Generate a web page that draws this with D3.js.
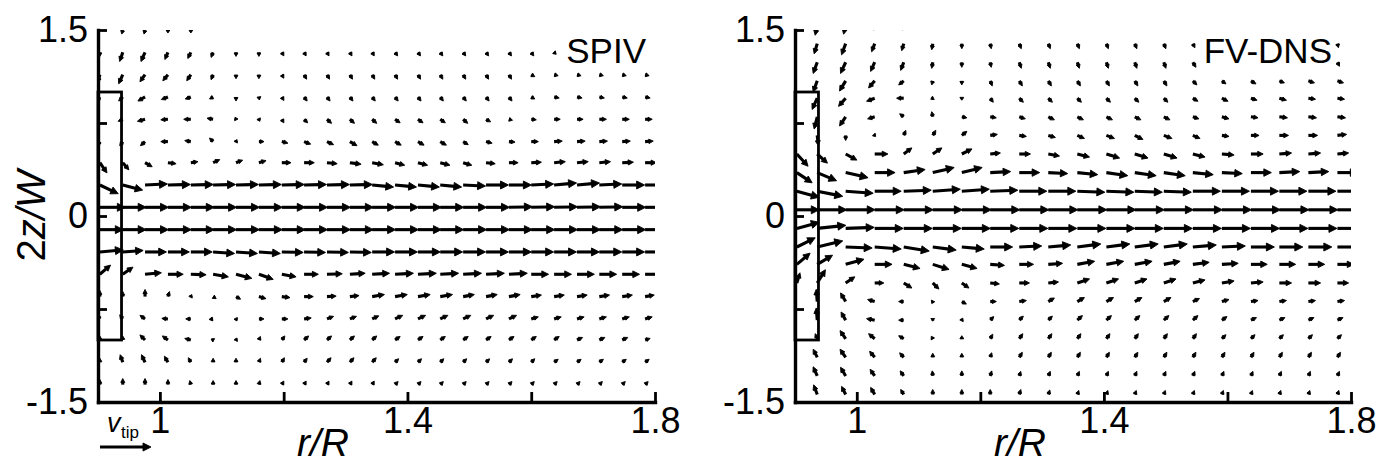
<!DOCTYPE html>
<html><head><meta charset="utf-8">
<script src="https://cdn.jsdelivr.net/npm/d3@7"></script>
<style>
body{margin:0;background:#fff}
svg{display:block}
text{font-family:"Liberation Sans",Arial,Helvetica,sans-serif;fill:#000}
</style>
</head><body>
<svg id="chart" width="1396" height="467"></svg>
<script>
// ---------- data (velocities in % of V_tip, u radial, v axial) ----------
const spivR = [0.903,0.940,0.976,1.013,1.050,1.086,1.123,1.160,1.197,1.233,1.270,1.307,1.343,1.380,1.417,1.453,1.490,1.527,1.564,1.600,1.637,1.674,1.710,1.747,1.784];
const spivZ = [1.50,1.32,1.14,0.96,0.78,0.60,0.43,0.25,0.07,-0.11,-0.29,-0.47,-0.65,-0.83,-1.00,-1.18,-1.36];
const spivU = [
[0,-2,-2,0,0,0,0,0,0,0,0,0,0,0,0,0,0,0,0,0,0,0,0,0,0],
[0,-6,-8,-6,-6,-4,0,0,4,4,4,4,4,5,5,5,5,5,5,5,4,4,4,4,4],
[-4,-8,-10,-10,-8,-4,0,0,4,5,5,5,5,5,5,5,5,5,5,7,8,8,8,8,8],
[-6,-8,-14,-13,-11,-7,0,1,4,6,6,6,6,6,6,6,6,6,6,7,10,10,10,10,10],
[0,-9,-15,-14,-14,-12,-2,2,4,7,9,9,9,10,10,10,9,9,7,10,12,12,14,14,14],
[-4,-6,-9,-14,-12,-7,2,10,12,13,13,14,12,12,12,12,10,12,12,14,16,16,16,16,16],
[14,12,14,16,14,13,13,14,18,20,20,22,22,19,19,19,17,18,18,20,22,22,22,22,22],
[36,39,44,44,44,44,44,44,44,44,44,44,42,42,42,42,44,44,44,44,44,44,44,44,44],
[50,46,46,46,46,46,46,46,46,46,46,46,46,46,46,46,46,46,46,46,46,46,46,46,46],
[46,46,46,46,46,46,46,46,46,46,46,46,46,46,46,46,46,46,46,46,46,46,46,46,46],
[46,40,42,42,42,42,42,42,42,42,42,42,44,44,44,44,44,44,44,44,44,44,44,44,44],
[21,20,32,30,30,30,31,28,28,28,30,30,34,36,36,36,36,36,36,34,34,34,34,34,34],
[0,0,0,3,2,6,9,14,16,18,18,18,24,24,24,24,22,22,22,20,20,20,20,20,18],
[-4,-6,-10,-12,-10,-8,2,10,12,14,13,13,13,15,15,15,15,15,15,14,14,14,14,14,14],
[0,0,-10,-11,-12,-4,2,3,6,9,9,9,9,10,10,10,10,10,10,10,10,11,11,11,10],
[0,-5,-7,-7,-5,0,0,3,5,6,8,8,8,7,7,7,7,7,7,7,8,8,8,8,8],
[0,0,0,0,-2,0,0,2,4,4,4,4,4,6,6,6,6,6,6,6,6,6,6,6,6]
];
const spivV = [
[0,-8,-8,-6,-6,0,0,0,0,0,0,0,0,0,0,0,0,0,0,0,0,0,0,0,0],
[-8,-18,-18,-14,-12,-10,-8,-8,-7,-7,-7,-7,-7,-7,-7,-7,-7,-7,-7,-7,-4,-4,-4,-4,-4],
[-16,-18,-14,-12,-12,-10,-8,-8,-7,-9,-9,-9,-9,-9,-9,-9,-9,-9,-9,-4,-2,-2,-2,-2,-2],
[-10,-8,-8,-5,-4,-4,-8,-6,-7,-8,-8,-8,-8,-8,-8,-8,-8,-8,-8,-4,-2,-2,-2,-2,-2],
[0,-4,-4,-1,0,2,4,-4,-7,-7,-8,-8,-8,-7,-7,-7,-8,-5,-2,-1,0,0,0,0,0],
[-8,-8,-8,0,2,7,4,0,-3,-5,-6,-8,-7,-7,-7,-7,-6,-3,-1,0,1,1,1,1,1],
[-20,-14,-8,-2,2,6,5,4,0,0,-2,-3,-4,-5,-5,-5,-5,-2,0,1,2,2,2,1,0],
[-17,-10,2,1,1,1,1,1,1,1,1,1,-4,-4,-4,-4,-2,0,0,2,4,4,2,0,0],
[0,0,0,0,0,0,0,0,0,0,0,0,0,0,0,0,0,0,1,1,1,1,1,0,0],
[0,0,0,0,0,0,0,0,0,0,0,0,0,0,0,0,0,0,0,0,0,0,0,0,0],
[4,3,0,0,0,-3,-3,-3,-1,-1,-1,-1,0,0,0,0,0,0,0,0,0,0,0,0,0],
[18,14,3,0,-1,-5,-8,-10,-5,0,1,2,2,2,2,2,2,2,2,0,0,0,0,0,0],
[12,10,14,10,4,-4,-5,-4,-2,0,1,2,4,4,4,4,4,4,4,3,3,3,3,3,3],
[8,8,7,1,0,-1,-4,0,0,2,5,5,6,7,7,7,7,7,7,4,4,4,4,4,4],
[8,8,10,8,3,2,4,7,8,8,8,8,8,7,7,7,7,7,7,7,7,5,5,5,3],
[8,15,15,12,9,8,8,8,9,8,9,9,9,7,7,7,7,7,7,7,6,6,6,6,6],
[10,12,12,10,8,8,8,8,7,7,7,7,7,6,6,6,6,6,6,6,6,6,6,6,6]
];
const dnsR = [0.903,0.936,0.982,1.029,1.076,1.123,1.170,1.216,1.263,1.310,1.357,1.404,1.450,1.497,1.544,1.591,1.638,1.684,1.731,1.778];
const dnsZ = [1.54,1.39,1.24,1.09,0.95,0.80,0.65,0.50,0.35,0.20,0.05,-0.10,-0.25,-0.39,-0.54,-0.69,-0.84,-0.99,-1.14,-1.29,-1.44];
const dnsU = [
[0,-4,-4,-2,-2,0,0,2,2,2,2,2,2,2,4,4,4,4,4,4],
[0,-6,-8,-6,-4,-2,0,2,4,4,4,4,4,4,4,4,4,4,4,2],
[0,-8,-10,-8,-6,-2,0,2,4,4,4,4,4,4,6,6,6,6,6,4],
[0,-8,-12,-12,-10,-2,0,4,6,6,6,6,6,6,8,8,10,10,12,12],
[0,-10,-14,-16,-14,-4,0,6,8,8,8,8,8,8,10,12,12,14,14,14],
[0,-6,-12,-14,-8,-2,10,12,12,12,12,12,12,12,12,14,14,16,16,16],
[0,2,0,2,4,6,10,14,14,14,14,16,16,16,14,14,16,18,18,18],
[22,20,22,26,16,18,20,20,22,22,24,26,26,26,24,24,24,24,24,22],
[30,38,44,40,42,42,40,40,40,38,40,42,42,42,40,40,40,40,40,40],
[44,50,54,52,54,54,54,54,54,54,54,54,54,54,54,54,54,54,54,54],
[44,58,58,58,58,58,58,58,58,58,58,58,58,58,58,58,58,58,58,58],
[44,56,56,56,56,56,56,56,56,56,56,56,56,56,56,56,56,56,56,56],
[36,50,52,52,50,46,44,44,44,44,46,46,46,46,46,46,46,46,46,46],
[26,30,36,34,32,32,30,28,28,28,34,34,34,32,32,32,32,32,32,32],
[6,16,18,18,16,12,14,18,20,20,24,24,24,24,24,24,24,24,24,22],
[0,-2,-10,-14,-10,-2,9,12,14,12,14,14,14,14,13,14,14,14,14,14],
[0,-2,-9,-16,-10,0,2,7,8,8,10,10,10,10,10,10,11,11,11,11],
[0,-4,-11,-12,-10,-3,0,5,7,7,7,7,7,7,7,8,8,8,8,8],
[0,-8,-11,-10,-8,0,0,3,6,6,6,6,6,6,6,6,6,6,6,6],
[0,-8,-10,-9,-7,-1,0,3,3,4,4,4,4,4,4,4,4,4,4,4],
[0,-7,-8,-8,-6,0,0,0,3,3,3,3,3,3,3,3,3,3,3,3]
];
const dnsV = [
[0,-20,-18,-10,-10,-8,-8,-8,-8,-8,-8,-8,-8,-8,-6,-6,-6,-6,-6,-6],
[0,-20,-22,-16,-14,-12,-10,-10,-10,-10,-10,-10,-10,-10,-8,-8,-8,-8,-8,-8],
[0,-22,-22,-18,-16,-12,-10,-10,-12,-12,-12,-12,-12,-12,-10,-10,-10,-10,-10,-8],
[0,-22,-20,-14,-8,-8,-8,-10,-10,-10,-10,-10,-10,-10,-8,-6,-6,-4,-4,-4],
[0,-22,-16,-6,0,-2,-4,-8,-8,-8,-8,-8,-8,-8,-6,-6,-4,-4,-2,-2],
[0,-24,-18,-4,6,10,-2,-2,-4,-6,-6,-6,-6,-6,-4,-4,-2,-2,-2,-2],
[0,-20,-10,-2,10,10,8,2,-2,-4,-6,-6,-8,-6,-6,-2,0,0,0,2],
[-24,-18,-12,0,12,12,10,2,0,-4,-6,-8,-8,-8,-6,-2,0,2,2,2],
[-20,-16,-10,0,6,10,10,2,0,-2,-4,-6,-6,-6,-4,-2,0,2,2,0],
[-12,-10,-4,0,2,4,4,2,0,0,-2,-2,-2,-2,0,0,0,0,0,0],
[0,0,0,0,0,0,0,0,0,0,0,0,0,0,0,0,0,0,0,0],
[12,6,2,0,0,0,0,0,0,0,0,0,0,0,0,0,0,0,0,0],
[18,12,-2,-4,-8,-6,-4,0,2,4,6,6,6,6,4,2,0,0,0,0],
[22,18,10,0,-8,-10,-8,-2,0,2,6,6,6,6,4,2,0,0,0,0],
[20,26,12,0,-10,-12,-10,-2,0,2,8,8,8,8,6,4,2,0,0,0],
[0,24,17,4,0,-4,-5,0,2,7,8,8,8,8,6,4,2,2,2,2],
[0,24,16,3,0,-2,4,7,8,8,9,9,9,9,9,7,5,5,5,5],
[0,10,16,10,6,5,6,9,10,10,10,10,10,10,10,8,8,8,8,8],
[0,16,16,12,9,8,8,9,10,10,10,10,10,10,10,10,10,10,10,10],
[0,18,17,13,10,10,10,10,9,9,9,9,9,9,9,9,9,9,9,9],
[0,19,16,14,10,10,10,10,10,9,8,8,8,8,8,8,8,8,8,8]
];
const xTicks = [1, 1.2, 1.4, 1.6, 1.8];
const xTickLabels = ["1", "", "1.4", "", "1.8"];
const yTicks = [1.5, 0.75, 0, -0.75, -1.5];
const yTickLabels = ["1.5", "", "0", "", "-1.5"];
const bladeR = [0.9, 0.938];
const bladeZ = [-1, 1];
const panelNames = ["SPIV", "FV-DNS"];
const refVector = 100; // V_tip in %

// ---------- drawing ----------
const svg = d3.select("#chart");
const yTop = 30, yBot = 402;
const pxPerVtip = 51;
const panelsCfg = [
  {name: panelNames[0], r: spivR, z: spivZ, u: spivU, v: spivV, x0: 98, x1: 655, labX: 646, xlabX: 297},
  {name: panelNames[1], r: dnsR, z: dnsZ, u: dnsU, v: dnsV, x0: 795, x1: 1351, labX: 1332, xlabX: 994}
];

function arrow(g, x, y, dx, dy, sw) {
  const L = Math.hypot(dx, dy);
  if (L < 0.8) return;
  const ux = dx / L, uy = dy / L;
  const h = Math.min(8, 0.25 * L + 2.4);
  const w = Math.max(1.9, h * 0.5);
  const tx = x + dx, ty = y + dy;
  const bx = tx - ux * h, by = ty - uy * h;
  const sEnd = Math.max(L * 0.45, L - h + 0.8);
  g.append("line").attr("x1", x).attr("y1", y).attr("x2", x + ux * sEnd).attr("y2", y + uy * sEnd)
    .attr("stroke", "#000").attr("stroke-width", sw).attr("stroke-linecap", "butt");
  g.append("path").attr("d", `M${tx},${ty}L${bx - uy * w},${by + ux * w}L${bx + uy * w},${by - ux * w}Z`)
    .attr("fill", "#000").attr("stroke", "#000").attr("stroke-width", 0.9).attr("stroke-linejoin", "round");
}

panelsCfg.forEach((p, pi) => {
  const x = d3.scaleLinear().domain([0.9, 1.8]).range([p.x0, p.x1]);
  const y = d3.scaleLinear().domain([-1.5, 1.5]).range([yBot, yTop]);
  const clipId = "clip" + pi;
  svg.append("clipPath").attr("id", clipId).append("rect")
    .attr("x", p.x0).attr("y", yTop).attr("width", p.x1 - p.x0).attr("height", yBot - yTop);
  const g = svg.append("g").attr("clip-path", `url(#${clipId})`);
  p.z.forEach((zz, j) => {
    p.r.forEach((rr, i) => {
      const uu = p.u[j][i] / 100 * pxPerVtip;
      const vv = -p.v[j][i] / 100 * pxPerVtip;
      arrow(g, x(rr), y(zz), uu, vv, 3.1);
    });
  });
  // blade outline
  svg.append("rect").attr("x", x(bladeR[0])).attr("y", y(bladeZ[1]))
    .attr("width", x(bladeR[1]) - x(bladeR[0])).attr("height", y(bladeZ[0]) - y(bladeZ[1]))
    .attr("fill", "none").attr("stroke", "#000").attr("stroke-width", 2.8);
  // axes
  const ax = d3.axisLeft(y).tickValues(yTicks).tickSize(-9).tickSizeOuter(0).tickPadding(10)
    .tickFormat((d, i) => yTickLabels[i]);
  const gy = svg.append("g").attr("transform", `translate(${p.x0},0)`).call(ax);
  const bx = d3.axisBottom(x).tickValues(xTicks).tickSize(-10).tickSizeOuter(0).tickPadding(5)
    .tickFormat((d, i) => xTickLabels[i]);
  const gx = svg.append("g").attr("transform", `translate(0,${yBot})`).call(bx);
  [gx, gy].forEach(a => {
    a.select(".domain").attr("stroke-width", 3.4).attr("stroke-linecap", "square");
    a.selectAll(".tick line").attr("stroke-width", 2.8);
    a.selectAll(".tick text").attr("font-size", 36).attr("font-family", '"Liberation Sans",Arial,sans-serif').attr("fill", "#000");
  });
  // panel label with white background
  const lab = svg.append("text").attr("x", p.labX).attr("y", 63)
    .attr("text-anchor", "end").attr("font-size", 35).text(p.name);
  const bb = lab.node().getBBox();
  svg.insert("rect", () => lab.node()).attr("x", bb.x - 2).attr("y", bb.y + 3)
    .attr("width", bb.width + 4).attr("height", bb.height - 4).attr("fill", "#fff");
  // x label
  svg.append("text").attr("x", p.xlabX).attr("y", 456).attr("font-size", 39)
    .attr("font-style", "italic").text("r/R");
});

// y label
const yl = svg.append("text").attr("transform", "translate(45,216) rotate(-90)")
  .attr("text-anchor", "middle").attr("font-size", 40);
yl.append("tspan").text("2");
yl.append("tspan").attr("font-style", "italic").text("z/W");

// V_tip reference
svg.append("text").attr("x", 107).attr("y", 432).attr("font-size", 27).attr("font-style", "italic").text("v");
svg.append("text").attr("x", 121).attr("y", 438).attr("font-size", 17).text("tip");
arrow(svg.append("g"), 100, 447, refVector / 100 * pxPerVtip, 0, 3.1);
</script>
</body></html>
